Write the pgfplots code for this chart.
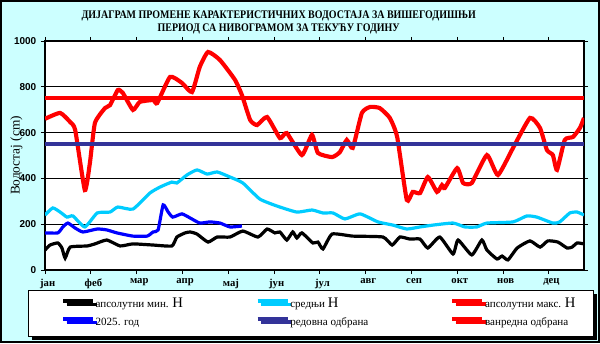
\documentclass[border=0pt]{standalone}
\usepackage{fontspec}
\setmainfont{Liberation Serif}
\newfontfamily\arialfont{Liberation Sans}
\usepackage{pgfplots}
\pgfplotsset{compat=1.18}
\usetikzlibrary{shadows}
\definecolor{bgc}{RGB}{204,255,255}
\definecolor{meanc}{RGB}{0,204,255}
\definecolor{dblue}{RGB}{51,51,153}
\begin{document}
\begin{tikzpicture}[x=1pt,y=1pt]
\path[use as bounding box] (0,0) rectangle (450,257.25);
\fill[bgc] (0,0) rectangle (450,257.25);
\draw[black,line width=1.2pt] (0.6,0.6) rectangle (449.4,256.65);
\node[font=\bfseries\fontsize{8.7}{10}\selectfont] at (209,245.5) {\scalebox{0.86}[1]{ДИЈАГРАМ ПРОМЕНЕ КАРАКТЕРИСТИЧНИХ ВОДОСТАЈА ЗА ВИШЕГОДИШЊИ}};
\node[font=\bfseries\fontsize{8.7}{10}\selectfont] at (209,235.5) {\scalebox{0.86}[1]{ПЕРИОД СА НИВОГРАМОМ ЗА ТЕКУЋУ ГОДИНУ}};
\begin{axis}[
  at={(33.75pt,54.75pt)}, anchor=south west,
  scale only axis, width=404.25pt, height=171.75pt,
  xmin=0, xmax=11.77, ymin=0, ymax=1000,
  axis background/.style={fill=white},
  axis line style={black, line width=0.8pt},
  xtick={0,1,2,3,4,5,6,7,8,9,10,11},
  xticklabels={јан,феб,мар,апр,мај,јун,јул,авг,сеп,окт,нов,дец},
  ytick={0,200,400,600,800,1000},
  tick align=outside, major tick length=3pt,
  tick style={black, line width=0.6pt},
  xticklabel style={font=\bfseries\fontsize{8}{9}\selectfont, yshift=0pt, xshift=2pt},
  yticklabel style={font=\arialfont\bfseries\fontsize{7.5}{9}\selectfont},
  /pgf/number format/assume math mode=true,
  /pgf/number format/1000 sep={},
  ymajorgrids, grid style={black, line width=0.6pt},
  ylabel={Водостај (cm)},
  ylabel style={font=\fontsize{10}{12}\selectfont, at={(axis description cs:-0.053,0.5)}, anchor=center},
  legend columns=3,
  legend image code/.code={\path (0pt,0pt); \draw[#1] (14pt,2.5pt) -- (36.5pt,2.5pt);},
  legend style={at={(-0.0315,-0.0873)}, anchor=north west,
    font=\fontsize{8.3}{9}\selectfont, draw=black, line width=0.6pt,
    inner xsep=11pt, inner ysep=5.5pt, row sep=3.5pt,
    nodes={inner sep=0.5pt, text height=7pt, text depth=2pt},
    drop shadow={shadow xshift=2.5pt, shadow yshift=-2.5pt, fill=black, opacity=1}},
]
% апсолутни мин. H
\addplot[black, line width=2.4pt, smooth, tension=0.3] coordinates {
(0,87) (0.11,109) (0.28,118) (0.37,96) (0.44,52) (0.55,100) (0.92,105) (1.09,114) (1.35,131) (1.64,105) (1.92,114) (2.36,109) (2.77,105) (2.88,144) (3.06,162) (3.17,166) (3.32,157) (3.56,122) (3.76,144) (4.04,144) (4.32,170) (4.65,144) (4.85,179) (5.02,162) (5.13,166) (5.28,131) (5.41,166) (5.50,140) (5.61,162) (5.85,118) (5.96,122) (6.07,92) (6.27,157) (6.72,148) (7.38,144) (7.58,109) (7.75,144) (7.97,135) (8.19,135) (8.36,96) (8.62,144) (8.91,70) (9.02,131) (9.32,66) (9.54,131) (9.65,87) (9.87,48) (9.98,61) (10.11,44) (10.31,96) (10.59,127) (10.81,100) (10.98,127) (11.20,122) (11.40,96) (11.51,100) (11.62,118) (11.77,114)};
\addlegendentry{\makebox[105.5pt][l]{апсолутни мин. {\fontsize{11}{11}\selectfont H}}}
% средњи H
\addplot[meanc, line width=2.4pt, smooth, tension=0.3] coordinates {
(0,240) (0.17,271) (0.33,253) (0.48,231) (0.61,236) (0.87,188) (1.14,249) (1.42,253) (1.59,275) (1.92,266) (2.29,336) (2.51,362) (2.77,384) (2.88,380) (3.10,415) (3.32,437) (3.54,419) (3.76,428) (4.04,406) (4.32,380) (4.69,310) (5.07,279) (5.50,253) (5.83,262) (6.07,249) (6.29,249) (6.55,223) (6.88,245) (7.27,210) (7.60,196) (7.90,179) (8.19,188) (8.47,196) (8.91,205) (9.17,188) (9.43,188) (9.65,205) (10.22,210) (10.52,236) (10.74,231) (11.09,205) (11.24,210) (11.46,249) (11.62,253) (11.77,240)};
\addlegendentry{\makebox[105.5pt][l]{средњи {\fontsize{11}{11}\selectfont H}}}
% апсолутни макс. H
\addplot[red, line width=3.1pt, smooth, tension=0.3] coordinates {
(0,660) (0.33,686) (0.55,646) (0.66,611) (0.87,349) (0.98,467) (1.09,642) (1.31,707) (1.42,720) (1.59,786) (1.70,773) (1.92,699) (2.07,734) (2.36,742) (2.45,729) (2.73,843) (2.99,817) (3.21,777) (3.38,887) (3.56,952) (3.82,917) (4.15,830) (4.30,764) (4.48,655) (4.63,633) (4.85,668) (5.13,576) (5.28,598) (5.61,502) (5.83,590) (5.96,511) (6.27,493) (6.44,515) (6.59,568) (6.72,533) (6.92,686) (7.10,712) (7.31,707) (7.53,664) (7.69,581) (7.90,306) (8.03,341) (8.19,336) (8.36,406) (8.56,341) (8.67,371) (8.73,358) (9.00,445) (9.13,380) (9.32,380) (9.65,502) (9.89,415) (10.22,533) (10.59,664) (10.81,620) (10.96,524) (11.09,502) (11.18,437) (11.35,568) (11.53,581) (11.68,620) (11.77,664)};
\addlegendentry{\makebox[70pt][l]{апсолутни макс. {\fontsize{11}{11}\selectfont H}}}
% 2025. год
\addplot[blue, line width=2.4pt, smooth, tension=0.3] coordinates {
(0,162) (0.28,162) (0.39,188) (0.50,205) (0.66,183) (0.83,166) (1.14,179) (1.35,175) (1.57,162) (1.92,148) (2.23,148) (2.36,166) (2.47,175) (2.58,284) (2.69,253) (2.79,231) (2.99,245) (3.17,227) (3.38,205) (3.60,210) (3.82,205) (4.04,188) (4.30,192)};
\addlegendentry{\makebox[105.5pt][l]{2025. год}}
% редовна одбрана
\addplot[dblue, line width=3pt] coordinates {(0,550) (11.77,550)};
\addlegendentry{\makebox[105.5pt][l]{редовна одбрана}}
% ванредна одбрана
\addplot[red, line width=3pt] coordinates {(0,750) (11.77,750)};
\addlegendentry{\makebox[70pt][l]{ванредна одбрана}}
\end{axis}
\end{tikzpicture}
\end{document}
